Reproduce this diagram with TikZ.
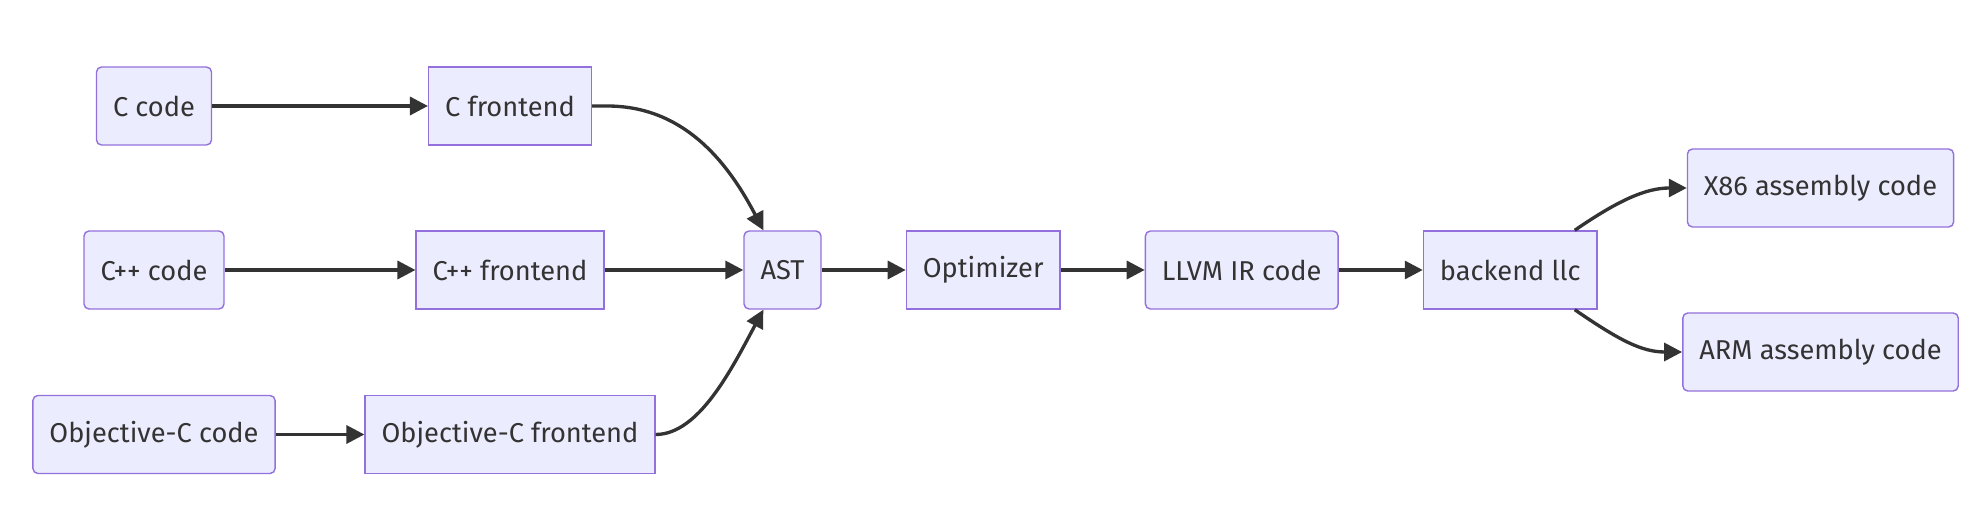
\documentclass[tikz,border=0pt]{standalone}
\usepackage{fontspec}
\setmainfont{Fira Sans}
\usepackage{tikz}
\usetikzlibrary{arrows.meta,positioning}
\definecolor{nodefill}{HTML}{ECECFF}
\definecolor{nodeline}{HTML}{9370DB}
\definecolor{edgegray}{HTML}{333333}

\begin{document}
\begin{tikzpicture}[
        node distance=1.68cm,
        box/.style={rectangle, draw=nodeline, line width=0.8pt, fill=nodefill, text=edgegray,
            minimum height=1.56cm, inner xsep=0.33cm,
            font=\fontsize{15.5}{18}\selectfont},
        soft/.style={box, rounded corners=0.1cm},
        flow/.style={-{Triangle[length=0.36cm,width=0.36cm]}, line width=1.9pt, draw=edgegray}
    ]
        \useasboundingbox (0,0) rectangle (39.6,10.28);
        % sources and frontends
        \node[soft] (ccode) at (3.08,8.16) {C code};
        \node[box] (cfront) at (10.2,8.16) {C frontend};
        \node[soft] (cppcode) at (3.08,4.88) {C++ code};
        \node[box] (cppfront) at (10.2,4.88) {C++ frontend};
        \node[soft] (objccode) at (3.08,1.59) {Objective-C code};
        \node[box] (objcfront) at (10.2,1.59) {Objective-C frontend};
        % main chain
        \node[soft] (ast) at (15.65,4.88) {AST};
        \node[box, right=of ast] (opt) {Optimizer};
        \node[soft, right=of opt] (ir) {LLVM IR code};
        \node[box, right=of ir] (llc) {backend llc};
        % targets
        \node[soft] (x86) at (36.41,6.52) {X86 assembly code};
        \node[soft] (arm) at (36.41,3.24) {ARM assembly code};
        \draw[flow] (ccode) -- (cfront);
        \draw[flow] (cppcode) -- (cppfront);
        \draw[flow] (objccode) -- (objcfront);
        \draw[flow] (cfront.east) -- ++(0.3,0) .. controls +(1.5,0) and +(-0.74,1.42) .. ([xshift=0.4cm]ast.north west);
        \draw[flow] (cppfront) -- (ast);
        \draw[flow] (objcfront.east) .. controls +(0.86,0) and +(-0.64,-1.2) .. ([xshift=0.4cm]ast.south west);
        \draw[flow] (ast) -- (opt);
        \draw[flow] (opt) -- (ir);
        \draw[flow] (ir) -- (llc);
        \draw[flow] ([xshift=-0.46cm]llc.north east) .. controls +(0.9,0.62) and +(-0.8,0) .. (x86.west);
        \draw[flow] ([xshift=-0.46cm]llc.south east) .. controls +(0.9,-0.62) and +(-0.8,0) .. (arm.west);
    \end{tikzpicture}
\end{document}
